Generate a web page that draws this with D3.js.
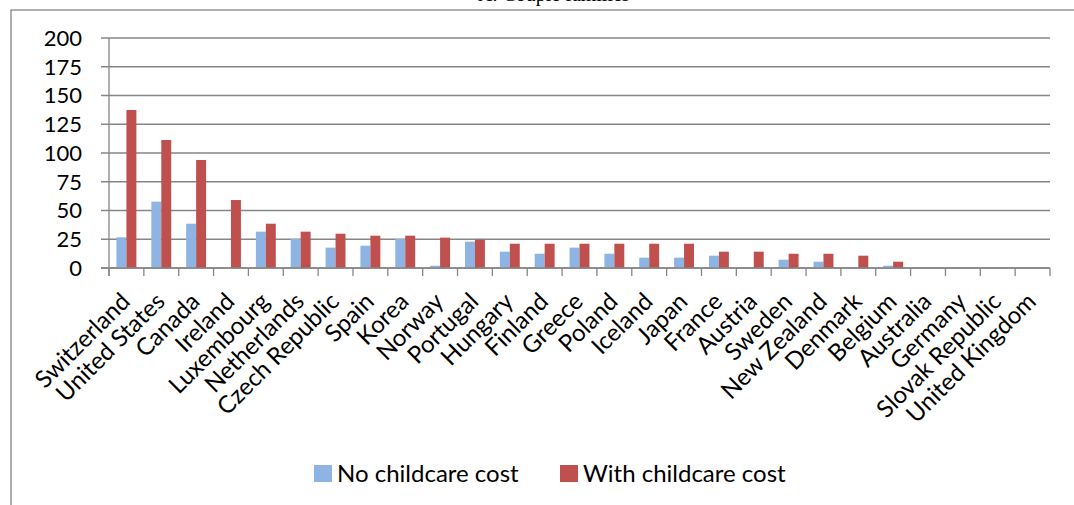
<!DOCTYPE html>
<html>
<head>
<meta charset="utf-8">
<script src="https://cdn.jsdelivr.net/npm/d3@7"></script>
<style>
  body { margin: 0; background: #fff; }
  svg { display: block; }
  text { font-family: Lato, "Open Sans", sans-serif; fill: #000; }
</style>
</head>
<body>
<figure class="chart" style="margin:0"></figure>
<script>
// chart values
var countries = ["Switzerland", "United States", "Canada", "Ireland", "Luxembourg", "Netherlands",
  "Czech Republic", "Spain", "Korea", "Norway", "Portugal", "Hungary", "Finland", "Greece",
  "Poland", "Iceland", "Japan", "France", "Austria", "Sweden", "New Zealand", "Denmark",
  "Belgium", "Australia", "Germany", "Slovak Republic", "United Kingdom"];
var noChildcare = [26.7, 57.7, 38.5, 0, 31.6, 25.2, 17.7, 19.4, 25.2, 2.0, 22.9, 14.2, 12.4, 17.7,
  12.4, 9.0, 9.0, 10.7, 0, 7.2, 5.5, 0, 2.0, 0, 0, 0, 0];
var withChildcare = [137.4, 111.3, 93.9, 59.1, 38.5, 31.6, 29.8, 28.1, 28.1, 26.4, 24.6, 21.1, 21.1, 21.1,
  21.1, 21.1, 21.1, 14.2, 14.2, 12.4, 12.4, 10.7, 5.5, 0, 0, 0, 0];
var seriesNames = ["No childcare cost", "With childcare cost"];
var seriesColors = ["#8db4e2", "#c0504d"];
var yTicks = [0, 25, 50, 75, 100, 125, 150, 175, 200];
var title = "A. Couple families";

function wrapper(){

var W = 1074, H = 505;
var plot = {left: 109, right: 1050, top: 38, bottom: 268};

var svg = d3.select("figure.chart")
            .append("svg")
            .attr("width", W)
            .attr("height", H);

// outer chart frame (cropped by the window)
svg.append("rect")
   .attr("x", 11).attr("y", 10)
   .attr("width", 1200).attr("height", 700)
   .attr("fill", "none")
   .attr("stroke", "#868686")
   .attr("stroke-width", 1.3);

// title, mostly cut off above the frame
svg.append("text")
   .attr("x", 478).attr("y", 0.5)
   .attr("text-anchor", "start")
   .style("font-family", "'Liberation Serif', serif")
   .style("font-size", "20px")
   .text(title);

var data = countries.map(function(c, i){
  return {name: c, values: [noChildcare[i], withChildcare[i]]};
});

var x = d3.scaleBand()
          .domain(countries)
          .range([plot.left, plot.right])
          .paddingInner(0)
          .paddingOuter(0);

// excel style: gap width 150%
var barW = x.bandwidth() / 3.5;
var xs = d3.scaleBand()
           .domain([0, 1])
           .range([barW * 0.75, barW * 2.75]);

var y = d3.scaleLinear()
          .domain([0, 200])
          .range([plot.bottom, plot.top]);

// gridlines
svg.append("g")
   .attr("class", "grid")
   .selectAll("line")
   .data(yTicks)
   .enter()
   .append("line")
   .attr("x1", plot.left - 8)
   .attr("x2", plot.right)
   .attr("y1", d => y(d))
   .attr("y2", d => y(d))
   .attr("stroke", "#868686")
   .attr("stroke-width", 1.3);

// y labels
svg.append("g")
   .selectAll("text")
   .data(yTicks)
   .enter()
   .append("text")
   .attr("x", 82)
   .attr("y", d => y(d))
   .attr("dy", "0.36em")
   .attr("text-anchor", "end")
   .style("font-size", "22px")
   .text(d => d);

// bars
var groups = svg.append("g")
                .selectAll("g.cat")
                .data(data)
                .enter()
                .append("g")
                .attr("class", "cat")
                .attr("transform", d => `translate(${x(d.name)},0)`);

groups.selectAll("rect")
      .data(d => d.values)
      .enter()
      .append("rect")
      .attr("x", (d, i) => xs(i))
      .attr("width", xs.bandwidth())
      .attr("y", d => y(d))
      .attr("height", d => y(0) - y(d))
      .attr("fill", (d, i) => seriesColors[i]);

// axes lines
svg.append("line")
   .attr("x1", plot.left).attr("x2", plot.left)
   .attr("y1", plot.top).attr("y2", plot.bottom + 8)
   .attr("stroke", "#868686").attr("stroke-width", 1.3);

svg.append("line")
   .attr("x1", plot.left - 8).attr("x2", plot.right)
   .attr("y1", plot.bottom).attr("y2", plot.bottom)
   .attr("stroke", "#868686").attr("stroke-width", 1.3);

// category boundary ticks
var bounds = countries.map(c => x(c)).concat([plot.right]);
svg.append("g")
   .selectAll("line")
   .data(bounds)
   .enter()
   .append("line")
   .attr("x1", d => d).attr("x2", d => d)
   .attr("y1", plot.bottom).attr("y2", plot.bottom + 8)
   .attr("stroke", "#868686").attr("stroke-width", 1.3);

// rotated category labels
svg.append("g")
   .selectAll("text")
   .data(countries)
   .enter()
   .append("text")
   .attr("text-anchor", "end")
   .attr("transform", d => `translate(${x(d) + x.bandwidth() / 2 + 5},${plot.bottom + 35}) rotate(-45)`)
   .style("font-size", "24px")
   .text(d => d);

// legend
var legend = svg.append("g").attr("class", "legend");
var legendX = [314, 560];
seriesNames.forEach(function(name, i){
  legend.append("rect")
        .attr("x", legendX[i]).attr("y", 465)
        .attr("width", 18).attr("height", 17)
        .attr("fill", seriesColors[i]);
  legend.append("text")
        .attr("x", legendX[i] + 23).attr("y", 482)
        .style("font-size", "24px")
        .text(name);
});

}
window.onload = wrapper();
</script>
</body>
</html>
